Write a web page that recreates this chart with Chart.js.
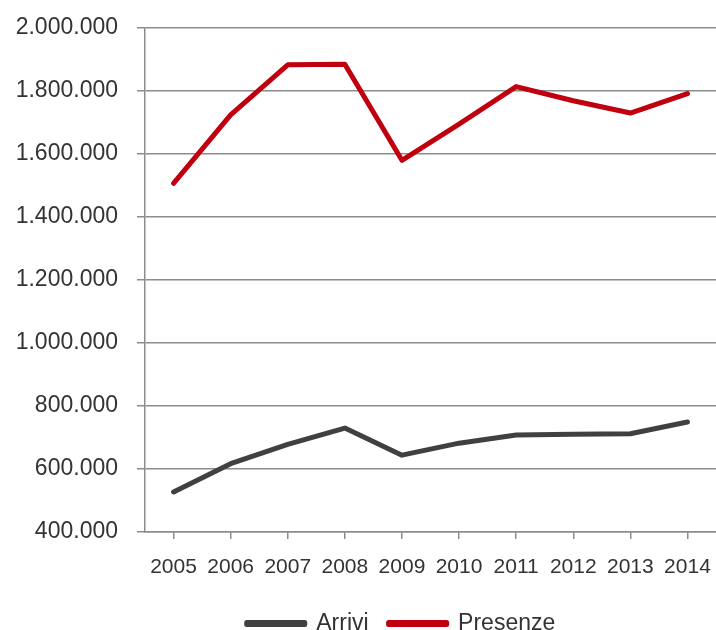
<!DOCTYPE html>
<html>
<head>
<meta charset="utf-8">
<script src="https://cdn.jsdelivr.net/npm/chart.js@4"></script>
<style>
  html, body { margin: 0; padding: 0; background: #fff; overflow: hidden; height: 630px; }
  #wrap { width: 716px; height: 645px; }
</style>
</head>
<body>
<div id="wrap"><canvas id="chart" width="716" height="645"></canvas></div>
<script>
const years = ["2005", "2006", "2007", "2008", "2009", "2010", "2011", "2012", "2013", "2014"];
const arrivi = [527000, 617000, 678000, 730000, 644000, 682000, 708000, 710000, 712000, 749000];
const presenze = [1507000, 1724000, 1883000, 1885000, 1580000, 1695000, 1814000, 1769000, 1730000, 1792000];

const gridColor = "#8c8c8c";
const textColor = "#333333";

function formatIt(v) {
  return String(v).replace(/\B(?=(\d{3})+(?!\d))/g, ".");
}

// the legend in the original sits a bit right of the page centre
const legendShift = {
  id: "legendShift",
  afterLayout(chart) {
    chart.legend.left += 43;
    chart.legend.right += 43;
  },
};

new Chart(document.getElementById("chart"), {
  type: "line",
  data: {
    labels: years,
    datasets: [
      {
        label: "Arrivi",
        data: arrivi,
        borderColor: "#404040",
        backgroundColor: "#404040",
        borderWidth: 5,
        borderJoinStyle: "round",
        borderCapStyle: "round",
        pointRadius: 0,
        tension: 0,
      },
      {
        label: "Presenze",
        data: presenze,
        borderColor: "#c0000e",
        backgroundColor: "#c0000e",
        borderWidth: 5,
        borderJoinStyle: "round",
        borderCapStyle: "round",
        pointRadius: 0,
        tension: 0,
      },
    ],
  },
  plugins: [legendShift],
  options: {
    responsive: false,
    animation: false,
    layout: { padding: { top: 28, right: 0, left: 0, bottom: 0 } },
    plugins: {
      tooltip: { enabled: false },
      legend: {
        position: "bottom",
        labels: {
          boxWidth: 58,
          boxHeight: 2,
          padding: 20,
          color: textColor,
          font: { family: "Liberation Sans", size: 23 },
        },
      },
    },
    scales: {
      x: {
        offset: true,
        afterFit: (scale) => {
          scale.height = 60;
          scale.paddingLeft = 0;
          scale.paddingRight = 0;
        },
        grid: {
          drawOnChartArea: false,
          drawTicks: true,
          tickLength: 7,
          color: gridColor,
          lineWidth: 1.5,
        },
        border: { color: gridColor, width: 1.5 },
        ticks: {
          color: textColor,
          padding: 16,
          maxRotation: 0,
          font: { family: "Liberation Sans", size: 21 },
        },
      },
      y: {
        min: 400000,
        max: 2000000,
        afterFit: (scale) => {
          scale.width = 145;
          scale.paddingTop = 0;
          scale.paddingBottom = 0;
        },
        grid: {
          color: gridColor,
          lineWidth: 1.5,
          tickLength: 8,
        },
        border: { color: gridColor, width: 1.5 },
        ticks: {
          stepSize: 200000,
          color: textColor,
          padding: 19,
          font: { family: "Liberation Sans", size: 23 },
          callback: (v) => formatIt(v),
        },
      },
    },
  },
});
</script>
</body>
</html>
